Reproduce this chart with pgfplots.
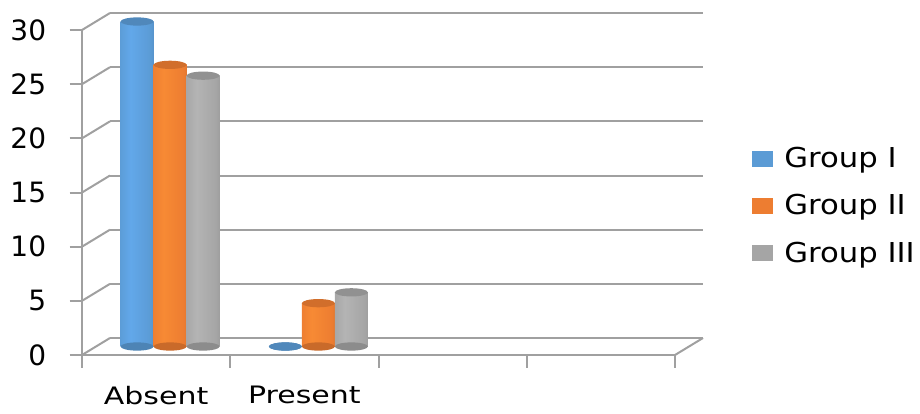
\documentclass[border=0pt]{standalone}
\usepackage{fontspec}
\setmainfont{DejaVu Sans}
\newfontfamily\catfont{DejaVu Sans}[FakeStretch=1.25]
\newfontfamily\legfont{DejaVu Sans}[FakeStretch=1.12]
\usepackage{pgfplots}
\pgfplotsset{compat=1.18}
\definecolor{cblue}{HTML}{5B9BD5}
\definecolor{corange}{HTML}{ED7D31}
\definecolor{cgray}{HTML}{A5A5A5}
\definecolor{gline}{HTML}{A0A0A0}
\definecolor{hblue}{HTML}{62A8EA}
\definecolor{horange}{HTML}{F78A34}
\definecolor{hgray}{HTML}{B4B4B4}
\pgfdeclarehorizontalshading{cylcblue}{100bp}{color(0bp)=(cblue!78!black); color(22bp)=(cblue); color(40bp)=(hblue); color(70bp)=(cblue); color(90bp)=(cblue!82!black); color(100bp)=(cblue!70!black)}
\pgfdeclarehorizontalshading{cylcorange}{100bp}{color(0bp)=(corange!78!black); color(22bp)=(corange); color(40bp)=(horange); color(70bp)=(corange); color(90bp)=(corange!82!black); color(100bp)=(corange!70!black)}
\pgfdeclarehorizontalshading{cylcgray}{100bp}{color(0bp)=(cgray!78!black); color(22bp)=(cgray); color(40bp)=(hgray); color(70bp)=(cgray); color(90bp)=(cgray!82!black); color(100bp)=(cgray!70!black)}
\pgfplotsset{common/.style={scale only axis, width=296.5pt, height=162.5pt,
  xmin=0, xmax=4, ymin=0, ymax=30, anchor=south west, clip=false},
  cyl/.style={ybar, bar width=16.5pt, bar shift=0pt, draw=none,
    shade, shading=cyl#1, forget plot},
  ell/.style={only marks, mark=*, mark size=8.25pt, color=#1, fill=#1,
    mark options={yscale=0.25, draw=none, draw opacity=0, fill=#1}, forget plot}}
\begin{document}
\begin{tikzpicture}
\useasboundingbox (0,0) rectangle (460pt,206.5pt);
% back wall
\begin{axis}[common, at={(55pt,37.5pt)}, axis line style={draw=none},
  xtick=\empty, ytick={0,5,...,30}, yticklabels={}, major tick length=0pt,
  ymajorgrids, grid style={gline, line width=1pt}]
\pgfplotsinvokeforeach{0,5,10,15,20,25,30}{\draw[gline, line width=1pt] (axis cs:0,#1) -- ++(-14pt,-8.5pt);}
\draw[gline, line width=1pt] (axis cs:4,0) -- ++(-14pt,-8.5pt);
\end{axis}
% front plane
\begin{axis}[common, at={(41pt,29pt)}, axis x line=bottom, axis y line=left,
  axis line style={gline, line width=1pt, -},
  ytick={0,5,...,30}, xtick={0,1,2,3,4}, xticklabels={},
  tick align=outside, tick style={gline, line width=1pt}, major tick length=6.25pt,
  extra x ticks={0.5,1.5}, extra x tick labels={Absent,Present},
  extra x tick style={major tick length=0pt,
    xticklabel style={font=\catfont\fontsize{12}{14}\selectfont, inner sep=0pt, anchor=north, yshift=-15.5pt}},
  yticklabel style={font=\fontsize{14}{16}\selectfont, inner sep=0pt, anchor=east, xshift=-11.5pt},
  /pgf/number format/assume math mode=true]
\end{axis}
% bars (mid depth)
\begin{axis}[common, at={(48pt,33.25pt)}, hide axis,
  legend image code/.code={\fill[#1, draw=none] (0pt,-4pt) rectangle (10.5pt,4pt);},
  legend style={draw=none, fill=none, at={(1.1062,0.4323)}, anchor=west,
    inner sep=0pt, row sep=12pt, column sep=5.5pt,
    font=\legfont\fontsize{13.7}{16}\selectfont, nodes={inner sep=0pt}},
  legend cell align=left]
% bottom ellipses
\addplot[ell=cblue!85!black] coordinates {(0.2774,0) (1.2774,0)};
\addplot[ell=corange!85!black] coordinates {(0.5,0) (1.5,0)};
\addplot[ell=cgray!85!black] coordinates {(0.7226,0) (1.7226,0)};
% bodies (one plot per bar so that each is shaded on its own)
\addplot[cyl=cblue] coordinates {(0.2774,30)};
\addplot[cyl=corange] coordinates {(0.5,26)};
\addplot[cyl=cgray] coordinates {(0.7226,25)};
\addplot[cyl=cblue] coordinates {(1.2774,0)};
\addplot[cyl=corange] coordinates {(1.5,4)};
\addplot[cyl=cgray] coordinates {(1.7226,5)};
% tops
\addplot[ell=cblue!88!black] coordinates {(0.2774,30) (1.2774,0)};
\addplot[ell=corange!88!black] coordinates {(0.5,26) (1.5,4)};
\addplot[ell=cgray!88!black] coordinates {(0.7226,25) (1.7226,5)};
\addlegendimage{fill=cblue, draw=none}
\addlegendentry{Group I}
\addlegendimage{fill=corange, draw=none}
\addlegendentry{Group II}
\addlegendimage{fill=cgray, draw=none}
\addlegendentry{Group III}
\end{axis}
\end{tikzpicture}
\end{document}
